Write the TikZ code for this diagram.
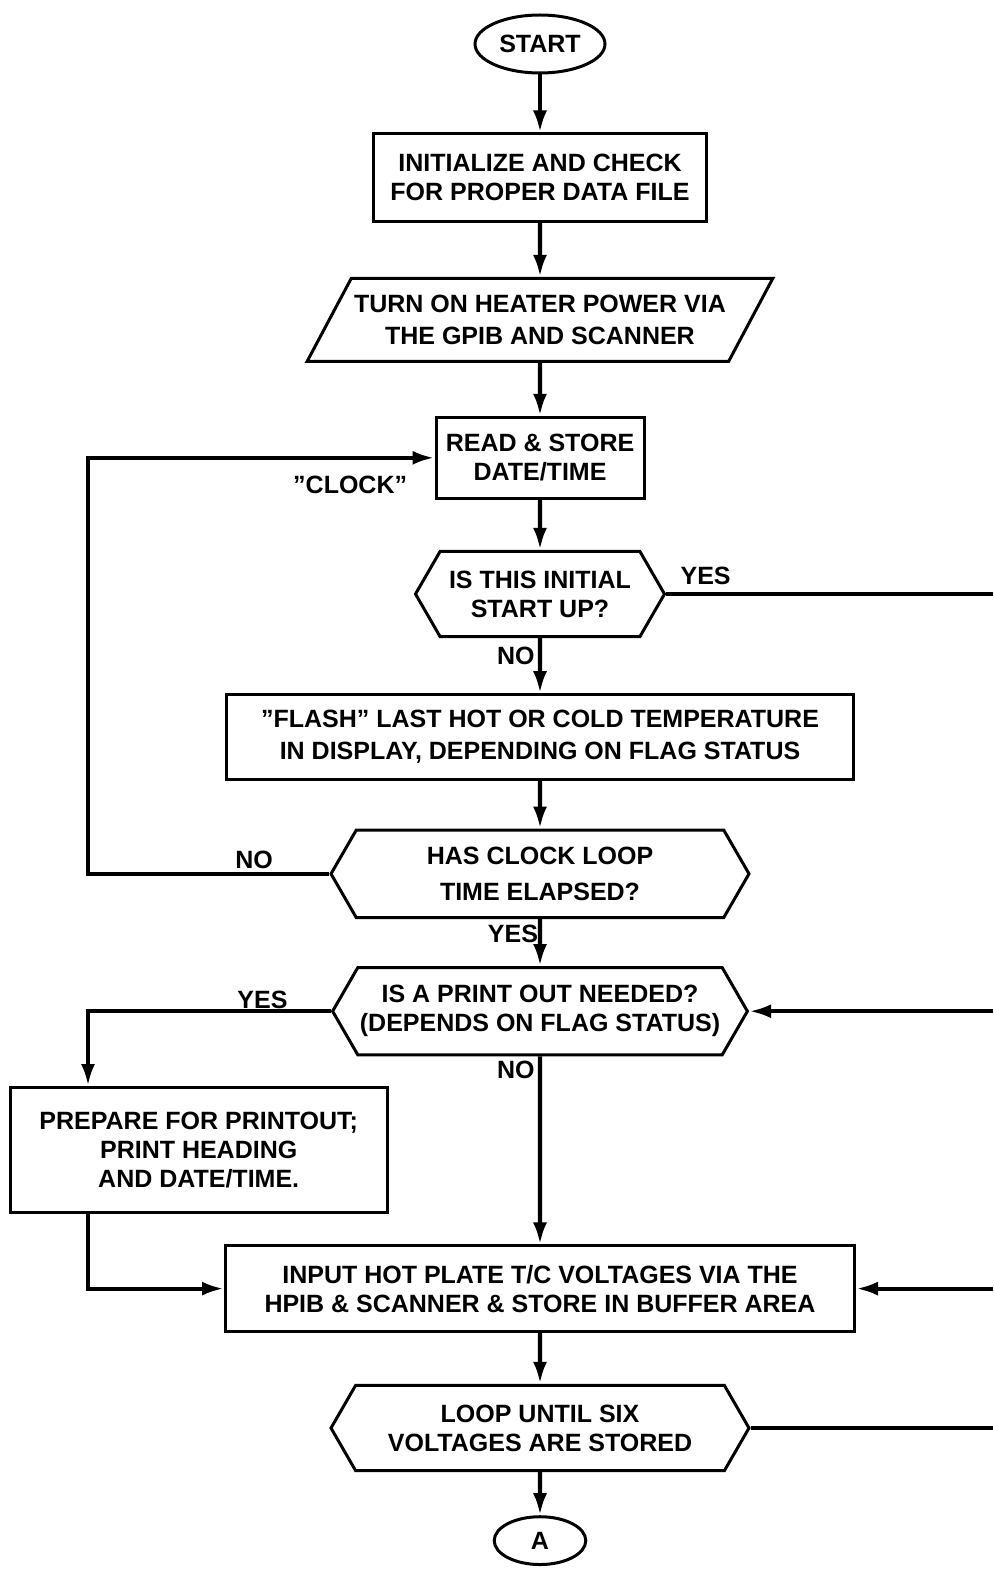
\documentclass[tikz,border=0pt]{standalone}
\usepackage{fontspec}
\setmainfont{Liberation Sans}
\usepackage{tikz}
\usetikzlibrary{positioning,arrows.meta,shapes.geometric,shapes.symbols}

\begin{document}
\begin{tikzpicture}[x=0.5pt, y=-0.5pt, ->, >={Latex[length=11pt,width=7pt]}, every node/.style={font=\bfseries\fontsize{12.5}{14.5}\selectfont, align=center}, every edge/.append style={line width=2.1pt}, flow/.style={line width=2.1pt}, box/.style={draw, rectangle, line width=1.5pt, inner sep=0pt}, decision/.style={draw, signal, signal to=east and west, signal pointer angle=120, line width=1.5pt, inner sep=0pt}, io/.style={draw, trapezium, trapezium left angle=62, trapezium right angle=118, trapezium stretches body=true, line width=1.5pt, inner xsep=0pt, inner ysep=8.3pt}, term/.style={draw, ellipse, line width=1.5pt, inner sep=0pt}, lbl/.style={inner sep=0pt}]

\useasboundingbox (0,0) rectangle (993,1594);

\coordinate (edge) at (993,0);
\coordinate (lx) at (88,0);

\node[term, minimum width=65pt, minimum height=29pt] (start) at (540,44) {START};
\node[box, minimum width=166.5pt, minimum height=43.7pt] (init) [below=29pt of start] {INITIALIZE AND CHECK\\FOR PROPER DATA FILE};
\node[io, minimum width=232.8pt] (heat) [below=27pt of init] {TURN ON HEATER POWER VIA\\[1.5pt]THE GPIB AND SCANNER};
\node[box, minimum width=104pt, minimum height=40.5pt] (read) [below=26.5pt of heat] {READ \& STORE\\DATE/TIME};
\node[decision, minimum width=124.5pt, minimum height=42.7pt] (first) [below=25pt of read] {IS THIS INITIAL\\START UP?};
\node[box, minimum width=313.5pt, minimum height=42.2pt] (flash) [below=27.5pt of first] {"FLASH" LAST HOT OR COLD TEMPERATURE\\[1.5pt]IN DISPLAY, DEPENDING ON FLAG STATUS};
\node[decision, minimum width=209pt, minimum height=43.7pt] (clock) [below=24pt of flash] {HAS CLOCK LOOP\\[3.5pt]TIME ELAPSED?};
\node[decision, minimum width=207.4pt, minimum height=43.7pt] (print) [below=23.5pt of clock] {IS A PRINT OUT NEEDED?\\(DEPENDS ON FLAG STATUS)};
\node[box, minimum width=188.5pt, minimum height=62.5pt] (prep) at (198.7,1150) {PREPARE FOR PRINTOUT;\\PRINT HEADING\\AND DATE/TIME.};
\node[box, minimum width=314.5pt, minimum height=42.7pt] (input) [below=94pt of print] {INPUT HOT PLATE T/C VOLTAGES VIA THE\\HPIB \& SCANNER \& STORE IN BUFFER AREA};
\node[decision, minimum width=209pt, minimum height=42.7pt] (six) [below=25.5pt of input] {LOOP UNTIL SIX\\VOLTAGES ARE STORED};
\node[term, minimum width=45.8pt, minimum height=23.9pt] (A) [below=21.5pt of six] {A};

\node[lbl] (yes1) [above right=4.3pt and 7pt of first.east] {YES};
\node[lbl] (no1) [below left=4pt and 2.5pt of first.south] {NO};
\node[lbl] (clk) [below left=9pt and 13.5pt of read.west] {"CLOCK"};
\node[lbl] (no2) [above left=2.5pt and 28pt of clock.west] {NO};
\node[lbl] (yes2) [below left=3pt and 0.8pt of clock.south] {YES};
\node[lbl] (yes3) [above left=1pt and 21.5pt of print.west] {YES};
\node[lbl] (no3) [below left=2pt and 2.5pt of print.south] {NO};

\path
    (start) edge (init)
    (init) edge (heat)
    (heat) edge (read)
    (read) edge (first)
    (first) edge (flash)
    (flash) edge (clock)
    (clock) edge (print)
    (print) edge (input)
    (input) edge (six)
    (six) edge (A);

\draw[flow] (clock.west) -- (clock.west -| lx) |- (read.west);
\draw[flow] (print.west) -- (print.west -| lx) -- (prep.north -| lx);
\draw[flow] (prep.south -| lx) |- (input.west);
\draw[flow] (edge |- print.east) -- (print.east);
\draw[flow] (edge |- input.east) -- (input.east);
\draw[flow, -] (first.east) -- (first.east -| edge);
\draw[flow, -] (six.east) -- (six.east -| edge);
\end{tikzpicture}
\end{document}
